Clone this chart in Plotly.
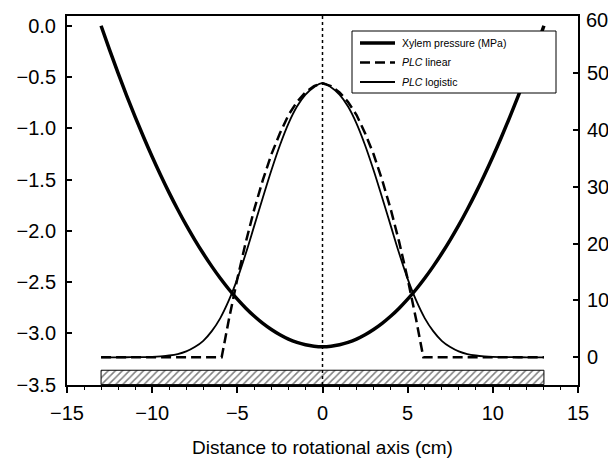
import plotly.graph_objects as go

# Distance to rotational axis (cm)
x_cm = [-13.0, -12.5, -12.0, -11.5, -11.0, -10.5, -10.0, -9.5, -9.0, -8.5, -8.0, -7.5, -7.0,
        -6.5, -6.0, -5.5, -5.0, -4.5, -4.0, -3.5, -3.0, -2.5, -2.0, -1.5, -1.0, -0.5, 0.0,
        0.5, 1.0, 1.5, 2.0, 2.5, 3.0, 3.5, 4.0, 4.5, 5.0, 5.5, 6.0, 6.5, 7.0, 7.5, 8.0,
        8.5, 9.0, 9.5, 10.0, 10.5, 11.0, 11.5, 12.0, 12.5, 13.0]

# Xylem pressure (MPa)
pressure = [0.000, -0.236, -0.463, -0.681, -0.889, -1.088, -1.278, -1.458, -1.630, -1.792,
            -1.945, -2.088, -2.222, -2.347, -2.463, -2.570, -2.667, -2.755, -2.834, -2.903,
            -2.963, -3.014, -3.056, -3.088, -3.111, -3.125, -3.130,
            -3.125, -3.111, -3.088, -3.056, -3.014, -2.963, -2.903, -2.834, -2.755, -2.667,
            -2.570, -2.463, -2.347, -2.222, -2.088, -1.945, -1.792, -1.630, -1.458, -1.278,
            -1.088, -0.889, -0.681, -0.463, -0.236, 0.000]

# PLC logistic (%)
plc_logistic = [0.0, 0.0, 0.0, 0.01, 0.02, 0.04, 0.08, 0.17, 0.32, 0.58, 1.04, 1.8, 2.9,
                4.6, 6.9, 10.0, 13.8, 18.3, 23.2, 28.1, 32.9, 37.3, 41.1, 44.1, 46.2, 47.5, 48.2,
                47.5, 46.2, 44.1, 41.1, 37.3, 32.9, 28.1, 23.2, 18.3, 13.8, 10.0, 6.9, 4.6,
                2.9, 1.8, 1.04, 0.58, 0.32, 0.17, 0.08, 0.04, 0.02, 0.01, 0.0, 0.0, 0.0]

# PLC linear (%)
x_lin = [-13.0, -5.92, -5.5, -5.0, -4.5, -4.0, -3.5, -3.0, -2.5, -2.0, -1.5, -1.0, -0.5, 0.0,
         0.5, 1.0, 1.5, 2.0, 2.5, 3.0, 3.5, 4.0, 4.5, 5.0, 5.5, 5.92, 13.0]
plc_linear = [0.0, 0.0, 6.6, 13.8, 20.3, 26.1, 31.2, 35.7, 39.4, 42.6, 44.9, 46.6, 47.7, 48.2,
              47.7, 46.6, 44.9, 42.6, 39.4, 35.7, 31.2, 26.1, 20.3, 13.8, 6.6, 0.0, 0.0]

# Hatched sample bar
hatch_x = [-13.0, 13.0]
hatch_y = [-3.5, -3.36]

x_ticks = [-15, -10, -5, 0, 5, 10, 15]
left_ticks = [0.0, -0.5, -1.0, -1.5, -2.0, -2.5, -3.0, -3.5]
right_ticks = [0, 10, 20, 30, 40, 50, 60]

legend_names = ["Xylem pressure (MPa)", "<i>PLC</i> linear", "<i>PLC</i> logistic"]

FONT = "Liberation Sans, Arial, Helvetica, sans-serif"
TICK_SIZE = 20

# page body has an 8px margin; the figure is sized so it fits the 616x466 window
W, H = 600, 450
ML, MR, MT, MB = 59, 30, 8, 73
PW, PH = W - ML - MR, H - MT - MB


def px_x(X):  # page pixel -> paper x
    return (X - 8 - ML) / PW


def px_y(Y):  # page pixel -> paper y
    return (H - MB + 8 - Y) / PH


fig = go.Figure()

fig.add_trace(go.Bar(
    x=[(hatch_x[0] + hatch_x[1]) / 2], y=[hatch_y[1] - hatch_y[0]], base=[hatch_y[0]],
    width=[hatch_x[1] - hatch_x[0]], yaxis="y", showlegend=False, hoverinfo="skip",
    marker=dict(color="white", line=dict(color="black", width=1),
                pattern=dict(shape="/", fgcolor="black", bgcolor="white", size=5, solidity=0.3)),
))

styles = [dict(color="black", width=3.5), dict(color="black", width=2.5, dash="10px,5px"),
          dict(color="black", width=1.8)]

fig.add_trace(go.Scatter(
    x=x_cm, y=pressure, mode="lines", name=legend_names[0], yaxis="y", showlegend=False,
    line=dict(**styles[0], shape="spline"),
))
fig.add_trace(go.Scatter(
    x=x_lin, y=plc_linear, mode="lines", name=legend_names[1], yaxis="y2", showlegend=False,
    line=styles[1],
))
fig.add_trace(go.Scatter(
    x=x_cm, y=plc_logistic, mode="lines", name=legend_names[2], yaxis="y2", showlegend=False,
    line=dict(**styles[2], shape="spline"),
))

fig.add_shape(type="line", xref="x", yref="paper", x0=0, x1=0, y0=0, y1=1,
              line=dict(color="black", width=1.5, dash="dot"))

# legend box drawn by hand
fig.add_shape(type="rect", xref="paper", yref="paper",
              x0=px_x(352), x1=px_x(556), y0=px_y(93), y1=px_y(31),
              line=dict(color="black", width=1), fillcolor="white", layer="above")
for i, (name, st) in enumerate(zip(legend_names, styles)):
    yy = px_y(43 + i * 19.5)
    fig.add_shape(type="line", xref="paper", yref="paper", x0=px_x(360), x1=px_x(395),
                  y0=yy, y1=yy, line=st, layer="above")
    fig.add_annotation(xref="paper", yref="paper", x=px_x(400), y=yy, text=name,
                       showarrow=False, xanchor="left", yanchor="middle",
                       font=dict(family=FONT, size=10.5, color="black"))

# top right tick label, nudged down as in the reference so it stays inside the page
fig.add_annotation(xref="paper", yref="y2", x=1, y=right_ticks[-1], xshift=6, yshift=-4,
                   text=str(right_ticks[-1]), showarrow=False, xanchor="left",
                   yanchor="middle", font=dict(family=FONT, size=TICK_SIZE, color="black"))

fig.update_layout(
    width=W, height=H,
    margin=dict(l=ML, r=MR, t=MT, b=MB, autoexpand=False),
    paper_bgcolor="white", plot_bgcolor="white",
    font=dict(family=FONT, size=TICK_SIZE, color="black"),
    showlegend=False,
    xaxis=dict(range=[-15, 15], tickvals=x_ticks, ticks="outside", ticklen=6, tickwidth=1.5,
               tickcolor="black", showline=True, linecolor="black", linewidth=2, mirror=True,
               showgrid=False, zeroline=False, ticklabelstandoff=3, automargin=False,
               minor=dict(dtick=1, ticks="outside", ticklen=3, tickwidth=1.2, tickcolor="black"),
               title=dict(text="Distance to rotational axis (cm)", standoff=21,
                          font=dict(family=FONT, size=19))),
    yaxis=dict(range=[-3.504, 0.095], tickvals=left_ticks, tickformat=".1f", ticks="inside",
               ticklen=5, tickwidth=1.5, tickcolor="black", showline=True, linecolor="black",
               linewidth=2, showgrid=False, zeroline=False, ticklabeloverflow="allow",
               ticklabelstandoff=5, automargin=False),
    yaxis2=dict(range=[-4.87, 60.02], tickvals=right_ticks,
                ticktext=[str(v) for v in right_ticks[:-1]] + [""],
                overlaying="y", side="right",
                ticks="inside", ticklen=5, tickwidth=1.5, tickcolor="black", showline=True,
                linecolor="black", linewidth=2, showgrid=False, zeroline=False,
                ticklabeloverflow="allow", ticklabelstandoff=3, automargin=False),
)

fig.write_html("out.html")
